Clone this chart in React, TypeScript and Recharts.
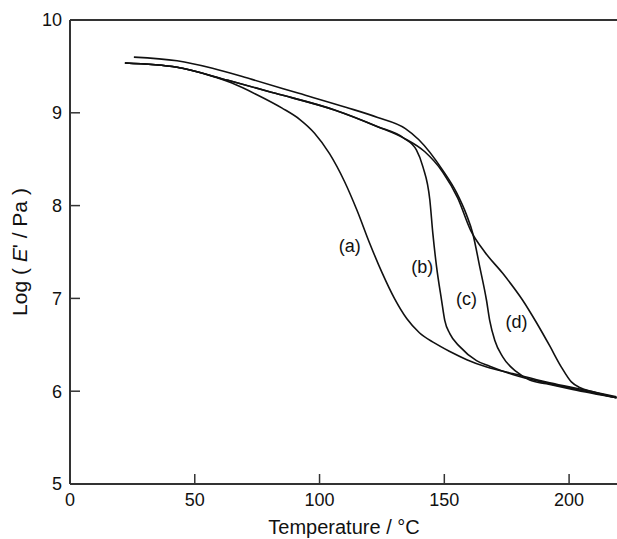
import { LineChart, Line, XAxis, YAxis, ReferenceLine, ReferenceDot } from "recharts"

// shared low-temperature part of curves (a), (b), (d)
const bundleTemp = [22, 42.9, 63.3, 82.3, 106, 123.3, 133.6]
const bundleLog = [9.536, 9.49, 9.35, 9.21, 9.03, 8.85, 8.73]

const tempA = [22, 42.9, 55, 64.9, 74.5, 85, 92, 98, 104, 110, 115, 120, 125, 130, 135, 140, 146, 152, 159, 167, 177.4, 190.9, 201.4, 219]
const logA = [9.536, 9.49, 9.41, 9.32, 9.2, 9.05, 8.93, 8.78, 8.56, 8.26, 7.95, 7.6, 7.28, 7.0, 6.78, 6.63, 6.52, 6.43, 6.34, 6.26, 6.19, 6.1, 6.04, 5.94]

const tempB = [...bundleTemp, 138.8, 141.4, 144.2, 145.4, 146.9, 148.9, 150.2, 152.2, 156.2, 162.9, 168.2, 177.4, 190.9, 201.4, 219]
const logB = [...bundleLog, 8.6, 8.42, 8.06, 7.7, 7.34, 6.98, 6.76, 6.62, 6.48, 6.33, 6.27, 6.18, 6.09, 6.03, 5.93]

const tempC = [25.6, 42.9, 57.1, 72.9, 91.7, 110.5, 123.3, 134.4, 139.8, 149.4, 154.9, 158.9, 161.4, 164.2, 166.9, 168.2, 170.2, 173.4, 178.9, 184.2, 190.9, 201.4, 219]
const logC = [9.6, 9.56, 9.48, 9.36, 9.21, 9.06, 8.95, 8.83, 8.71, 8.38, 8.14, 7.9, 7.7, 7.34, 6.98, 6.76, 6.55, 6.37, 6.21, 6.12, 6.08, 6.02, 5.93]

const tempD = [...bundleTemp, 142.2, 149.4, 155.4, 160.6, 166.2, 173.4, 181.4, 186.9, 192.2, 196.9, 200.9, 204.2, 210, 219]
const logD = [...bundleLog, 8.58, 8.36, 8.08, 7.73, 7.5, 7.27, 6.98, 6.74, 6.49, 6.26, 6.1, 6.04, 5.99, 5.93]

const xTicks = [0, 50, 100, 150, 200]
const yTicks = [5, 6, 7, 8, 9, 10]

const curveLabels = [
  { t: 112.1, v: 7.57, text: "(a)" },
  { t: 141.2, v: 7.34, text: "(b)" },
  { t: 158.9, v: 7.0, text: "(c)" },
  { t: 178.9, v: 6.75, text: "(d)" },
]

const toPoints = (ts: number[], vs: number[]) => ts.map((t, i) => ({ t, v: vs[i] }))

const series = [
  toPoints(tempA, logA),
  toPoints(tempB, logB),
  toPoints(tempC, logC),
  toPoints(tempD, logD),
]

const axisColor = "#333"

const XTick = ({ x, y, payload }: any) => (
  <g>
    <line x1={x} y1={y} x2={x} y2={y - 10} stroke={axisColor} strokeWidth={1.5} />
    <text x={x} y={y + 22} textAnchor="middle" fontSize={18} fill="#111">
      {payload.value}
    </text>
  </g>
)

const YTick = ({ x, y, payload }: any) => (
  <g>
    <line x1={x} y1={y} x2={x + 10} y2={y} stroke={axisColor} strokeWidth={1.5} />
    <text x={x - 8} y={y} dy="0.35em" textAnchor="end" fontSize={18} fill="#111">
      {payload.value}
    </text>
  </g>
)

const XTitle = () => (
  <text x={344} y={534} textAnchor="middle" fontSize={20} fill="#111">
    Temperature / °C
  </text>
)

const YTitle = () => (
  <text transform="translate(27,252) rotate(-90)" textAnchor="middle" fontSize={21} fill="#111">
    Log ( <tspan fontStyle="italic">E</tspan>' / Pa )
  </text>
)

export default function App() {
  return (
    <div
      style={{
        position: "fixed",
        left: 0,
        top: 0,
        width: 617,
        height: 539,
        overflow: "hidden",
        background: "#fff",
        fontFamily: "'Liberation Sans', Arial, sans-serif",
      }}
    >
      <LineChart width={625} height={539} margin={{ top: 20, right: 6, bottom: 0, left: 0 }}>
        <XAxis
          type="number"
          dataKey="t"
          domain={[0, 220]}
          ticks={xTicks}
          allowDataOverflow
          height={55}
          axisLine={{ stroke: axisColor, strokeWidth: 2 }}
          tickLine={false}
          tickSize={0}
          tickMargin={0}
          tick={<XTick />}
          label={<XTitle />}
        />
        <YAxis
          type="number"
          domain={[5, 10]}
          ticks={yTicks}
          allowDataOverflow
          width={70}
          axisLine={{ stroke: axisColor, strokeWidth: 2 }}
          tickLine={false}
          tickSize={0}
          tickMargin={0}
          tick={<YTick />}
          label={<YTitle />}
        />
        <ReferenceLine y={10} stroke={axisColor} strokeWidth={2} />
        {series.map((data, i) => (
          <Line
            key={i}
            data={data}
            dataKey="v"
            type="monotone"
            stroke="#111"
            strokeWidth={1.6}
            dot={false}
            activeDot={false}
            isAnimationActive={false}
          />
        ))}
        {curveLabels.map((l) => (
          <ReferenceDot
            key={l.text}
            x={l.t}
            y={l.v}
            r={0}
            fill="none"
            stroke="none"
            label={{ value: l.text, position: "center", fontSize: 18, fill: "#111" }}
          />
        ))}
      </LineChart>
    </div>
  )
}
